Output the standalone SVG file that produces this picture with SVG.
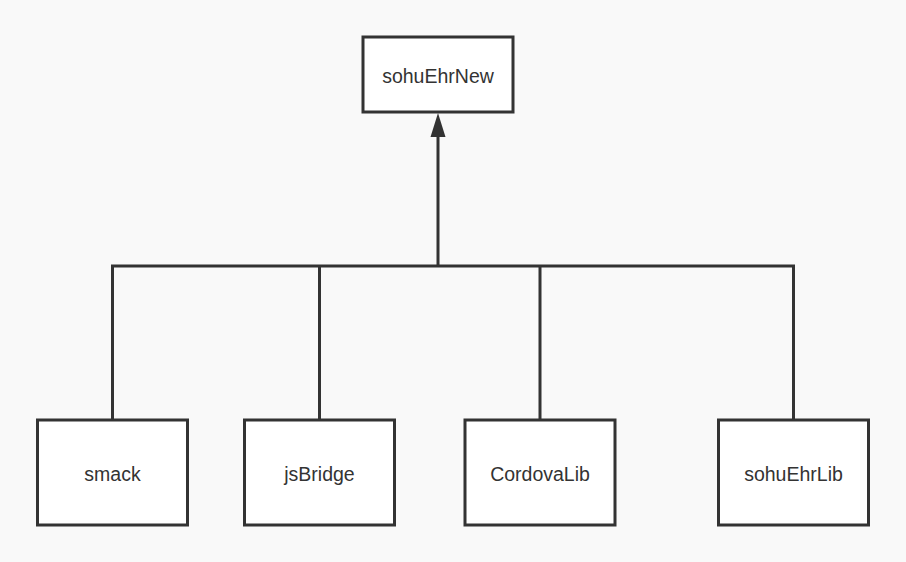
<svg xmlns="http://www.w3.org/2000/svg" width="906" height="562" viewBox="0 0 906 562">
<defs>
<style>
.node rect{fill:#ffffff;stroke:#333333;stroke-width:3}
.node text{font-family:"Liberation Sans",Arial,sans-serif;font-size:19.5px;fill:#333333;text-anchor:middle;dominant-baseline:central}
.conn{fill:none;stroke:#333333;stroke-width:3}
</style>
</defs>
<rect width="906" height="562" fill="#f9f9f9"/>
<g id="connectors">
<path class="conn" d="M112.5,420 V266 H793.5 V420"/>
<path class="conn" d="M319.5,420 V266"/>
<path class="conn" d="M540,420 V266"/>
<path class="conn" d="M438,266 V136"/>
<path d="M430.5,137 L438,113 L445.5,137 Z" fill="#333333"/>
</g>
<g id="sohuEhrNew" class="node"><rect x="363" y="37" width="150" height="75"/><text x="438" y="76">sohuEhrNew</text></g>
<g id="smack" class="node"><rect x="37.5" y="420" width="150" height="105"/><text x="112.5" y="474">smack</text></g>
<g id="jsBridge" class="node"><rect x="244.5" y="420" width="150" height="105"/><text x="319.5" y="474">jsBridge</text></g>
<g id="CordovaLib" class="node"><rect x="465" y="420" width="150" height="105"/><text x="540" y="474">CordovaLib</text></g>
<g id="sohuEhrLib" class="node"><rect x="718.5" y="420" width="150" height="105"/><text x="793.5" y="474">sohuEhrLib</text></g>
</svg>
